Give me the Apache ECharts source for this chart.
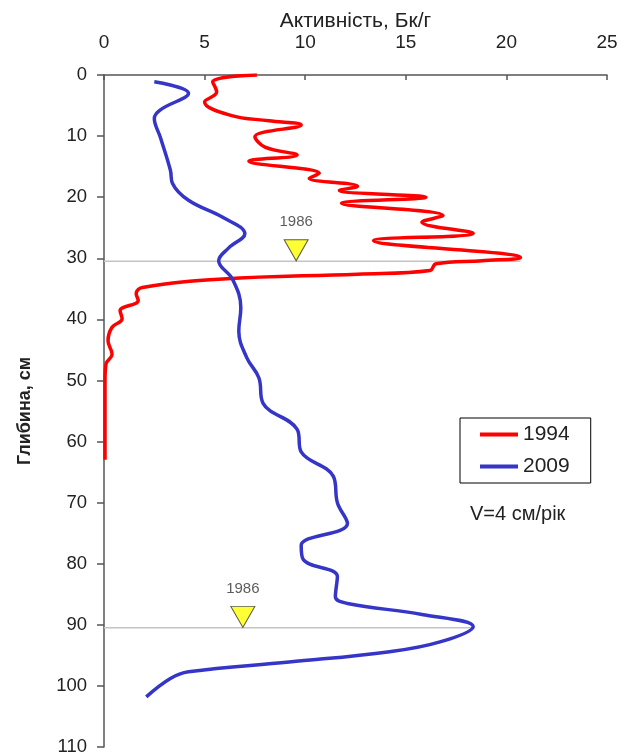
<!DOCTYPE html>
<html>
<head>
<meta charset="utf-8">
<script src="https://cdn.jsdelivr.net/npm/echarts@6/dist/echarts.min.js"></script>
<style>
  html, body { margin: 0; padding: 0; background: #fff; }
  #chart { width: 620px; height: 753px; }
</style>
</head>
<body>
<div id="chart"></div>
<script>
// глибина (см) та активність (Бк/г)
const depth1994 = [0, 1.1, 2.8, 4.4, 6.6, 7.5, 8.2, 10.1, 11.8, 13.1, 14.1, 16.1, 16.9, 18.2, 18.9, 20, 21, 23, 24.1, 25.9, 27.1, 29.9, 30.4, 30.9, 32, 32.6, 33.4, 34.8, 35.8, 36.9, 38.6, 39.9, 41.3, 43.5, 45.7, 47.3, 50, 55, 60, 63];
const activity1994 = [7.6, 5.4, 5.6, 5.0, 6.3, 8.2, 9.8, 7.5, 8.0, 9.6, 7.2, 10.7, 10.2, 12.6, 11.7, 16.0, 11.8, 16.85, 15.8, 18.35, 13.4, 20.7, 18.8, 16.5, 16.2, 12.6, 5.9, 1.9, 1.6, 1.7, 0.8, 0.9, 0.4, 0.2, 0.4, 0.1, 0.05, 0.05, 0.05, 0.05];

const depth2009 = [1.1, 3.0, 5.7, 7.1, 10.2, 15.6, 17.7, 20.5, 23.3, 26, 28.3, 30.4, 33.5, 38.1, 41.9, 46.3, 49.6, 53.7, 58, 61.7, 65.7, 70, 73.4, 77, 79.3, 82.1, 85.4, 86.5, 88.3, 90.3, 92.8, 94.4, 96.1, 97.7, 98.8, 101.8];
const activity2009 = [2.5, 4.2, 2.8, 2.5, 2.8, 3.3, 3.4, 4.2, 5.9, 7.0, 6.2, 5.7, 6.4, 6.8, 6.7, 7.1, 7.7, 7.9, 9.6, 9.8, 11.4, 11.6, 12.1, 9.8, 9.9, 11.6, 11.5, 12.1, 15.8, 18.35, 16.7, 14.2, 9.2, 4.2, 3.3, 2.1];

// позначки 1986 року
const markDepth = [28.7, 88.7];
const markActivity = [9.55, 6.9];
const peakDepth = [30.5, 90.5];
const peakActivity = [20.7, 18.35];

const xTicks = [0, 25];
const yTicks = [0, 110];

const toPairs = (xs, ys) => xs.map((v, i) => [v, ys[i]]);

var myChart = echarts.init(document.getElementById("chart"));
var option = {
  animation: false,
  textStyle: { fontFamily: "Liberation Sans, Arial, sans-serif" },
  grid: { left: 104, top: 75, right: 13, bottom: 6, containLabel: false, outerBoundsMode: "none" },
  xAxis: {
    type: "value",
    position: "top",
    min: xTicks[0],
    max: xTicks[1],
    interval: 5,
    name: "Активність, Бк/г",
    nameLocation: "middle",
    nameGap: 43,
    nameMoveOverlap: false,
    nameTextStyle: { fontSize: 21, color: "#222" },
    axisLine: { lineStyle: { color: "#555", width: 1.5 } },
    axisTick: { inside: true, length: 5, lineStyle: { color: "#555", width: 1.5 } },
    axisLabel: { fontSize: 19, color: "#222", margin: 23 },
    splitLine: { show: false },
  },
  yAxis: {
    type: "value",
    inverse: true,
    min: yTicks[0],
    max: yTicks[1],
    interval: 10,
    name: "Глибина, см",
    nameLocation: "middle",
    nameRotate: 90,
    nameGap: 70,
    nameMoveOverlap: false,
    nameTextStyle: { fontSize: 18, color: "#222", fontWeight: "bold" },
    axisLine: { lineStyle: { color: "#555", width: 1.5 } },
    axisTick: { length: 7, lineStyle: { color: "#555", width: 1.5 } },
    axisLabel: { fontSize: 18.5, color: "#222", margin: 17 },
    splitLine: { show: false },
  },
  legend: {
    data: ["1994", "2009"],
    orient: "vertical",
    left: 460,
    top: 418,
    itemWidth: 38,
    itemHeight: 4,
    itemGap: 11,
    icon: "rect",
    borderColor: "#000",
    borderWidth: 1,
    padding: [6, 21, 6, 20],
    textStyle: { fontSize: 21, color: "#222" },
  },
  graphic: [
    {
      type: "text",
      left: 470,
      top: 504,
      style: { text: "V=4 см/рік", fontSize: 20, fill: "#222", fontFamily: "Liberation Sans, Arial, sans-serif" },
    },
  ],
  series: [
    {
      name: "peak1",
      type: "line",
      data: [[0, peakDepth[0]], [peakActivity[0], peakDepth[0]]],
      symbol: "none",
      lineStyle: { color: "#c4c4c4", width: 1.5 },
      z: 1,
    },
    {
      name: "peak2",
      type: "line",
      data: [[0, peakDepth[1]], [peakActivity[1], peakDepth[1]]],
      symbol: "none",
      lineStyle: { color: "#c4c4c4", width: 1.5 },
      z: 1,
    },
    {
      name: "1994",
      type: "line",
      data: toPairs(activity1994, depth1994),
      smooth: 0.4,
      symbol: "none",
      color: "#ff0000",
      lineStyle: { color: "#ff0000", width: 3.5 },
      z: 3,
    },
    {
      name: "2009",
      type: "line",
      data: toPairs(activity2009, depth2009),
      smooth: 0.4,
      symbol: "none",
      color: "#3535c8",
      lineStyle: { color: "#3535c8", width: 3.5 },
      z: 3,
    },
    {
      name: "1986",
      type: "scatter",
      data: toPairs(markActivity, markDepth),
      symbol: "triangle",
      symbolRotate: 180,
      symbolSize: [24, 21],
      itemStyle: { color: "#ffff00", borderColor: "#333", borderWidth: 1 },
      label: {
        show: true,
        position: "top",
        distance: 10,
        formatter: "1986",
        fontSize: 15,
        color: "#333",
      },
      z: 4,
    },
  ],
};
myChart.setOption(option);
</script>
</body>
</html>
